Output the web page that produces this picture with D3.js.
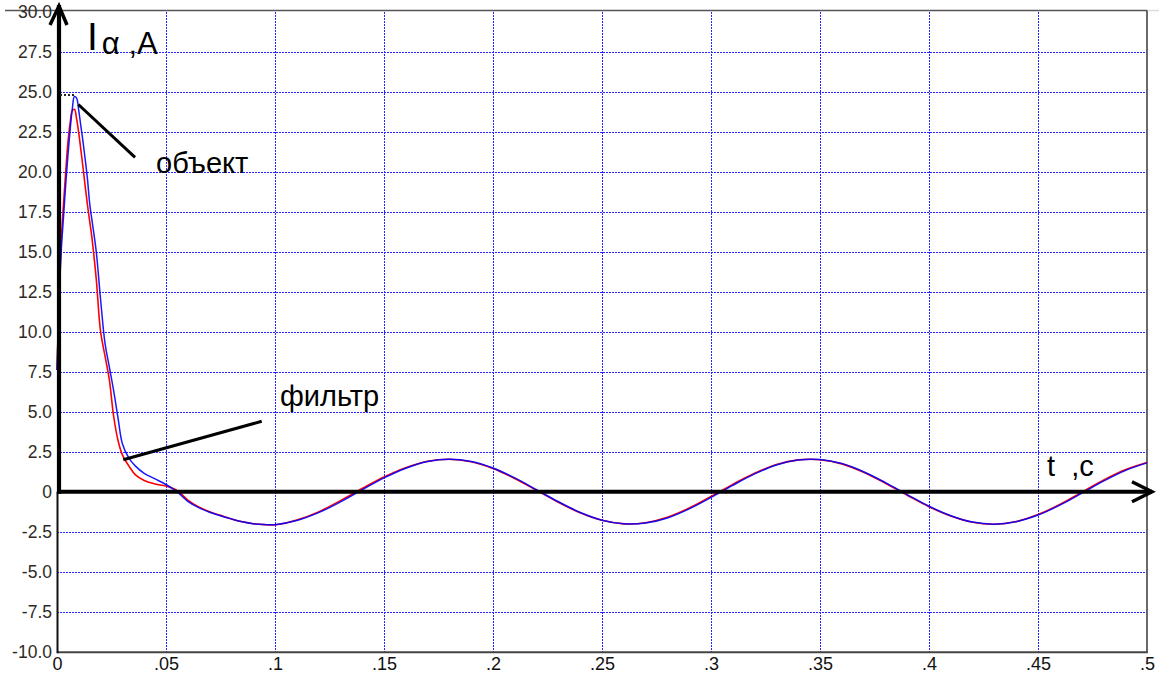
<!DOCTYPE html>
<html>
<head>
<meta charset="utf-8">
<script src="https://cdn.jsdelivr.net/npm/d3@7"></script>
<style>
  html, body { margin: 0; padding: 0; background: #fff; }
  svg { display: block; }
  text { font-family: "Liberation Sans", Arial, sans-serif; }
</style>
</head>
<body>
<svg id="chart" width="1159" height="678"></svg>
<script>
// Time samples, s
const times = [
  0, 0.001, 0.002, 0.003, 0.004, 0.005, 0.006, 0.007, 0.008, 0.009,
  0.010, 0.011, 0.012, 0.013, 0.014, 0.015, 0.016, 0.018, 0.020, 0.022,
  0.024, 0.026, 0.028, 0.030, 0.033, 0.036, 0.040, 0.045, 0.050, 0.055,
  0.060, 0.065, 0.070, 0.075, 0.080, 0.085, 0.090, 0.095, 0.100,
  0.11, 0.12, 0.13, 0.14, 0.15, 0.16, 0.17, 0.18, 0.19, 0.20,
  0.21, 0.22, 0.23, 0.24, 0.25, 0.26, 0.27, 0.28, 0.29, 0.30,
  0.31, 0.32, 0.33, 0.34, 0.35, 0.36, 0.37, 0.38, 0.39, 0.40,
  0.41, 0.42, 0.43, 0.44, 0.45, 0.46, 0.47, 0.48, 0.49, 0.50
];

// Phase current of the plant ("объект"), A
const objectCurrent = [
  7.6, 12.0, 15.2, 17.2, 19.2, 21.0, 22.6, 23.9, 24.7, 24.6,
  23.8, 22.8, 21.8, 20.7, 19.5, 18.0, 17.0, 15.0, 12.0, 9.3,
  7.8, 6.3, 4.6, 3.0, 2.1, 1.6, 1.15, 0.8, 0.45, 0.0,
  -0.6, -1.0, -1.28, -1.5, -1.7, -1.88, -2.0, -2.05, -2.06,
  -1.80, -1.31, -0.64, 0.12, 0.86, 1.47, 1.89, 2.03, 1.89, 1.48,
  0.86, 0.12, -0.63, -1.30, -1.78, -2.01, -1.96, -1.64, -1.07, -0.36,
  0.40, 1.11, 1.67, 1.98, 2.01, 1.76, 1.25, 0.57, -0.18, -0.91,
  -1.50, -1.90, -2.03, -1.88, -1.46, -0.84, -0.10, 0.66, 1.32, 1.80
];

// Current estimated by the filter ("фильтр"), A
const filterCurrent = [
  7.6, 12.3, 15.8, 18.0, 20.0, 21.8, 23.0, 23.8, 23.9, 23.3,
  22.4, 21.3, 20.2, 19.0, 17.9, 16.9, 15.9, 13.3, 10.0, 8.5,
  7.0, 4.7, 3.2, 2.3, 1.6, 1.05, 0.7, 0.48, 0.35, 0.08,
  -0.52, -0.95, -1.25, -1.48, -1.7, -1.88, -2.0, -2.06, -2.07,
  -1.77, -1.26, -0.56, 0.20, 0.92, 1.50, 1.90, 2.03, 1.87, 1.45,
  0.82, 0.08, -0.66, -1.32, -1.79, -2.01, -1.94, -1.60, -1.02, -0.30,
  0.46, 1.15, 1.70, 1.99, 2.00, 1.74, 1.22, 0.53, -0.22, -0.94,
  -1.52, -1.91, -2.03, -1.86, -1.43, -0.80, -0.04, 0.72, 1.37, 1.83
];

// Axis ticks and their labels
const xTicks = [0, 0.05, 0.1, 0.15, 0.2, 0.25, 0.3, 0.35, 0.4, 0.45, 0.5];
const xTickLabels = ["0", ".05", ".1", ".15", ".2", ".25", ".3", ".35", ".4", ".45", ".5"];
const yTicks = [-10, -7.5, -5, -2.5, 0, 2.5, 5, 7.5, 10, 12.5, 15, 17.5, 20, 22.5, 25, 27.5, 30];
const yTickLabels = ["-10.0", "-7.5", "-5.0", "-2.5", "0", "2.5", "5.0", "7.5", "10.0", "12.5",
                     "15.0", "17.5", "20.0", "22.5", "25.0", "27.5", "30.0"];

// Peak level marker and callout leaders, in data units [t, I]
const peakLevel = 24.8;
const objectLeader = [[0.0098, 24.2], [0.0358, 20.9]];
const filterLeader = [[0.0304, 2.0], [0.0939, 4.4]];

const svg = d3.select("#chart");
const W = 1159, H = 678;

const x = d3.scaleLinear().domain([0, 0.5]).range([57, 1147]);
const y = d3.scaleLinear().domain([-10, 30]).range([651.7, 11.7]);

svg.append("rect").attr("width", W).attr("height", H).attr("fill", "#fff");

// Dotted grid
const grid = svg.append("g")
  .attr("stroke", "#2626ff")
  .attr("stroke-width", 1)
  .attr("stroke-dasharray", "2,1")
  .attr("shape-rendering", "crispEdges");

grid.selectAll("line.v")
  .data(xTicks.filter(d => d > 0 && d < 0.5))
  .join("line")
  .attr("class", "v")
  .attr("x1", d => Math.round(x(d)) + 0.5)
  .attr("x2", d => Math.round(x(d)) + 0.5)
  .attr("y1", y(30))
  .attr("y2", y(-10));

grid.selectAll("line.h")
  .data(yTicks.filter(d => d > -10 && d < 30 && d !== 0))
  .join("line")
  .attr("class", "h")
  .attr("x1", x(0))
  .attr("x2", x(0.5))
  .attr("y1", d => Math.round(y(d)) + 0.5)
  .attr("y2", d => Math.round(y(d)) + 0.5);

// Frame
svg.append("line")
  .attr("x1", 5).attr("x2", x(0.5)).attr("y1", 10.5).attr("y2", 10.5)
  .attr("stroke", "#555").attr("stroke-width", 1.5);
svg.append("line")
  .attr("x1", x(0.5)).attr("x2", W).attr("y1", 10.5).attr("y2", 10.5)
  .attr("stroke", "#d8dde4").attr("stroke-width", 1.5);
svg.append("line")
  .attr("x1", x(0.5)).attr("x2", x(0.5)).attr("y1", 10.5).attr("y2", y(-10) + 1)
  .attr("stroke", "#444").attr("stroke-width", 1.6);
svg.append("line")
  .attr("x1", x(0)).attr("x2", x(0.5) + 0.8).attr("y1", y(-10) + 0.5).attr("y2", y(-10) + 0.5)
  .attr("stroke", "#444").attr("stroke-width", 2);
svg.append("line")
  .attr("x1", x(0) + 0.5).attr("x2", x(0) + 0.5).attr("y1", y(0)).attr("y2", y(-10) + 1.5)
  .attr("stroke", "#111").attr("stroke-width", 2);

// Tick labels
const yAxis = d3.axisLeft(y)
  .tickValues(yTicks)
  .tickFormat((d, i) => yTickLabels[i])
  .tickSize(0)
  .tickPadding(4);
const gy = svg.append("g").attr("transform", `translate(${x(0) - 1},0)`).call(yAxis);
gy.select(".domain").remove();
gy.selectAll("text")
  .attr("fill", "#2e2a26")
  .style("font-size", "17.5px")
  .style("font-family", '"Liberation Sans", Arial, sans-serif');

const xAxis = d3.axisBottom(x)
  .tickValues(xTicks)
  .tickFormat((d, i) => xTickLabels[i])
  .tickSize(0)
  .tickPadding(6);
const gx = svg.append("g").attr("transform", `translate(0,${y(-10)})`).call(xAxis);
gx.select(".domain").remove();
gx.selectAll("text")
  .attr("fill", "#111")
  .style("font-size", "18px")
  .style("font-family", '"Liberation Sans", Arial, sans-serif');

// Curves
const line = d3.line()
  .x((d, i) => x(times[i]))
  .y(d => y(d))
  .curve(d3.curveCatmullRom.alpha(0.5));

svg.append("path")
  .datum(filterCurrent)
  .attr("d", line)
  .attr("fill", "none")
  .attr("stroke", "#ff0000")
  .attr("stroke-width", 1.6);

svg.append("path")
  .datum(objectCurrent)
  .attr("d", line)
  .attr("fill", "none")
  .attr("stroke", "#0000ff")
  .attr("stroke-width", 1.5)
  .attr("opacity", 0.9);

// Main axes with arrows
const axisColor = "#000";
svg.append("line")
  .attr("x1", x(0)).attr("x2", x(0.5) + 5)
  .attr("y1", y(0)).attr("y2", y(0))
  .attr("stroke", axisColor).attr("stroke-width", 4);
svg.append("path")
  .attr("d", `M${x(0.5) - 15},${y(0) - 10} L${x(0.5) + 5},${y(0)} L${x(0.5) - 15},${y(0) + 10}`)
  .attr("fill", "none").attr("stroke", axisColor).attr("stroke-width", 3.5)
  .attr("stroke-linejoin", "miter");

svg.append("line")
  .attr("x1", x(0) + 2).attr("x2", x(0) + 2)
  .attr("y1", y(0) + 2).attr("y2", 5)
  .attr("stroke", axisColor).attr("stroke-width", 4.2);
svg.append("path")
  .attr("d", `M${x(0) - 7},${25} L${x(0) + 2},${6} L${x(0) + 10},${25}`)
  .attr("fill", "none").attr("stroke", axisColor).attr("stroke-width", 3.5)
  .attr("stroke-linejoin", "miter");

// Peak level marker
svg.append("line")
  .attr("x1", x(0) + 3).attr("x2", x(0.0078))
  .attr("y1", y(peakLevel)).attr("y2", y(peakLevel))
  .attr("stroke", "#222").attr("stroke-width", 2)
  .attr("stroke-dasharray", "2,2");

// Callout leaders
const leader = d3.line().x(d => x(d[0])).y(d => y(d[1]));
[objectLeader, filterLeader].forEach(pts => {
  svg.append("path")
    .attr("d", leader(pts))
    .attr("stroke", "#000")
    .attr("stroke-width", 3)
    .attr("fill", "none");
});

// Labels
svg.append("text").attr("x", 156).attr("y", 173)
  .style("font-size", "29px").attr("fill", "#000").text("объект");
svg.append("text").attr("x", 280).attr("y", 406)
  .style("font-size", "29px").attr("fill", "#000").text("фильтр");

const tl = svg.append("text").attr("x", 1047).attr("y", 476)
  .style("font-size", "29px").attr("fill", "#000")
  .attr("xml:space", "preserve").style("white-space", "pre");
tl.text("t  ,c");

const il = svg.append("text").attr("x", 87).attr("y", 50).attr("fill", "#000");
il.append("tspan").style("font-size", "39px").text("I");
il.append("tspan").attr("dx", 4).attr("dy", 4).style("font-size", "31px").text("α ,A");
</script>
</body>
</html>
